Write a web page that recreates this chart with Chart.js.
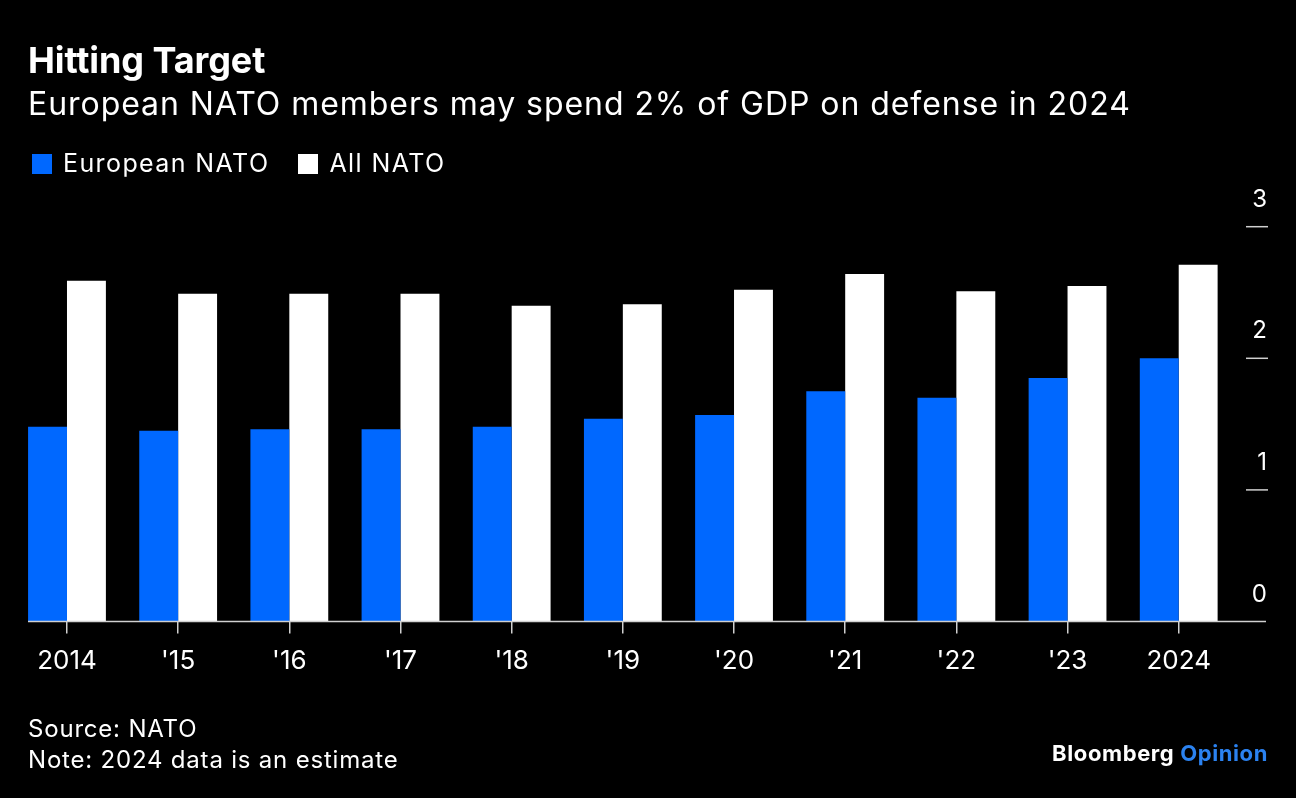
<!DOCTYPE html>
<html>
<head>
<meta charset="utf-8">
<script src="https://cdn.jsdelivr.net/npm/chart.js@4.4.1/dist/chart.umd.min.js"></script>
<style>
  html, body { margin: 0; padding: 0; background: #000; }
  body { width: 1296px; height: 798px; position: relative; overflow: hidden; font-family: Inter, "Liberation Sans", Arial, sans-serif; color: #fff; }
  .t { position: absolute; white-space: nowrap; line-height: 1; }
  #title { left: 28px; top: 42px; font-size: 36px; font-weight: 700; letter-spacing: -0.1px; }
  #subtitle { left: 28px; top: 88px; font-size: 32px; letter-spacing: 0.95px; }
  #legend { left: 32px; top: 151px; font-size: 25px; display: flex; align-items: center; letter-spacing: 1.4px; }
  .lg-item { display: flex; align-items: center; margin-right: 29px; }
  .lg-box { width: 20px; height: 20px; margin-right: 11px; }
  #source { left: 28px; top: 717px; font-size: 24px; letter-spacing: 0.8px; }
  #note { left: 28px; top: 748px; font-size: 24px; letter-spacing: 0.8px; }
  #brand { right: 28px; top: 742px; font-size: 22px; font-weight: 700; letter-spacing: 0.6px; }
  #brand span { color: #2b82f0; }
  canvas { position: absolute; left: 0; top: 0; }
</style>
</head>
<body>
<canvas id="c" width="1296" height="798"></canvas>
<div class="t" id="title">Hitting Target</div>
<div class="t" id="subtitle">European NATO members may spend 2% of GDP on defense in 2024</div>
<div class="t" id="legend"></div>
<div class="t" id="source">Source: NATO</div>
<div class="t" id="note">Note: 2024 data is an estimate</div>
<div class="t" id="brand">Bloomberg <span>Opinion</span></div>
<script>
// ---- data ----
const categories = ["2014", "'15", "'16", "'17", "'18", "'19", "'20", "'21", "'22", "'23", "2024"];
const europeanNato = [1.48, 1.45, 1.46, 1.46, 1.48, 1.54, 1.57, 1.75, 1.70, 1.85, 2.00];
const allNato = [2.59, 2.49, 2.49, 2.49, 2.40, 2.41, 2.52, 2.64, 2.51, 2.55, 2.71];
const seriesNames = ["European NATO", "All NATO"];
const seriesColors = ["#0068ff", "#ffffff"];
const yTicks = [0, 1, 2, 3];

// legend (HTML)
const lg = document.getElementById('legend');
seriesNames.forEach((n, i) => {
  const it = document.createElement('div'); it.className = 'lg-item';
  const b = document.createElement('div'); b.className = 'lg-box'; b.style.background = seriesColors[i];
  const s = document.createElement('span'); s.textContent = n;
  it.appendChild(b); it.appendChild(s); lg.appendChild(it);
});

const FONT = 'Inter, "Liberation Sans", Arial, sans-serif';

const axisDecor = {
  id: 'axisDecor',
  afterDatasetsDraw(chart) {
    const ctx = chart.ctx;
    const y = chart.scales.y;
    ctx.save();
    // baseline
    const y0 = y.getPixelForValue(0);
    ctx.strokeStyle = '#d0d0d0';
    ctx.lineWidth = 1.5;
    ctx.beginPath();
    ctx.moveTo(28, y0);
    ctx.lineTo(1266, y0);
    ctx.stroke();
    // right-side y ticks and labels
    ctx.fillStyle = '#ffffff';
    ctx.font = '24px ' + FONT;
    ctx.textAlign = 'right';
    ctx.textBaseline = 'alphabetic';
    yTicks.forEach(v => {
      const py = y.getPixelForValue(v);
      if (v !== 0) {
        ctx.beginPath();
        ctx.moveTo(1246, py);
        ctx.lineTo(1268, py);
        ctx.stroke();
      }
      ctx.fillText(String(v), 1267, py - 20);
    });
    ctx.restore();
  }
};

new Chart(document.getElementById('c'), {
  type: 'bar',
  data: {
    labels: categories,
    datasets: [
      { label: seriesNames[0], data: europeanNato, backgroundColor: seriesColors[0], borderWidth: 0 },
      { label: seriesNames[1], data: allNato, backgroundColor: seriesColors[1], borderWidth: 0 }
    ]
  },
  options: {
    responsive: false,
    animation: false,
    events: [],
    layout: { padding: { left: 11.4, right: 61.7, top: 226.7, bottom: 0 } },
    datasets: { bar: { categoryPercentage: 0.70, barPercentage: 1.0 } },
    plugins: { legend: { display: false }, title: { display: false }, tooltip: { enabled: false } },
    scales: {
      x: {
        offset: true,
        grid: { display: true, drawOnChartArea: false, drawTicks: true, tickLength: 12, offset: false, color: '#d0d0d0', lineWidth: 1.5 },
        border: { display: false },
        ticks: { color: '#ffffff', font: { family: FONT, size: 26 }, padding: 12, maxRotation: 0, autoSkip: false },
        afterFit(scale) { scale.height = 798 - 621.5; }
      },
      y: {
        display: false,
        min: 0, max: 3
      }
    }
  },
  plugins: [axisDecor]
});
</script>
</body>
</html>
